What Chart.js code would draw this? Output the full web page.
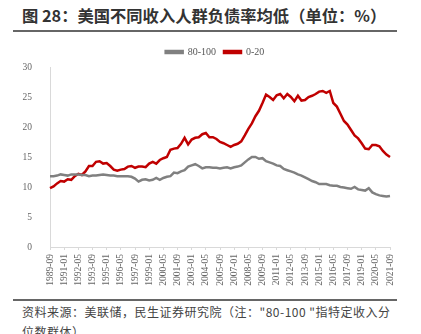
<!DOCTYPE html>
<html>
<head>
<meta charset="utf-8">
<script src="https://cdn.jsdelivr.net/npm/chart.js@4"></script>
<style>
  body { margin: 0; width: 421px; height: 334px; overflow: hidden; background: #fff; position: relative; font-family: "Noto Sans CJK SC", sans-serif; }
  #title { position: absolute; left: 22px; top: 3px; font-size: 16.3px; font-weight: bold; color: #333; white-space: nowrap; }
  #rule1 { position: absolute; left: 13px; top: 30px; width: 384px; height: 2px; background: #666; }
  #wrap { position: absolute; left: 0; top: 38px; width: 421px; height: 260px; }
  #rule2 { position: absolute; left: 13px; top: 299px; width: 384px; height: 2px; background: #666; }
  #source { position: absolute; left: 22px; top: 302px; width: 372px; font-size: 12px; letter-spacing: 0.5px; line-height: 20px; color: #444; }
</style>
</head>
<body>
<div id="title">图 28：美国不同收入人群负债率均低（单位：%）</div>
<div id="rule1"></div>
<div id="wrap"><canvas id="debtChart" width="421" height="260"></canvas></div>
<div id="rule2"></div>
<div id="source">资料来源：美联储，民生证券研究院（注："80-100 "指特定收入分位数群体）</div>
<script>
// 1989-09 to 2021-09, one point every 4 months
const months = [];
for (let y = 1989; y <= 2021; y++) {
    for (const m of ['01', '05', '09']) {
        if (y === 1989 && m !== '09') continue;
        months.push(y + '-' + m);
    }
}

const top20 = [
    11.8, 11.8, 11.9, 12.1, 12.0, 11.9, 12.1, 12.1, 12.1, 12.0,
    12.0, 11.8, 11.9, 11.9, 12.0, 12.1, 12.0, 11.9, 11.9, 11.8,
    11.8, 11.8, 11.8, 11.7, 11.4, 10.9, 11.2, 11.3, 11.1, 11.2,
    11.5, 11.2, 11.5, 11.7, 11.8, 12.4, 12.3, 12.6, 12.8, 13.4,
    13.6, 13.8, 13.5, 13.1, 13.3, 13.3, 13.2, 13.2, 13.1, 13.2,
    13.3, 13.1, 13.3, 13.4, 13.6, 14.1, 14.6, 15.0, 15.0, 14.7,
    14.8, 14.3, 14.1, 13.9, 13.6, 13.5, 13.0, 12.8, 12.6, 12.4,
    12.1, 11.9, 11.6, 11.3, 11.0, 10.8, 10.5, 10.5, 10.5, 10.3,
    10.2, 10.2, 10.0, 9.9, 9.8, 9.7, 10.0, 9.6, 9.5, 9.4,
    9.8, 9.1, 8.8, 8.6, 8.5, 8.4, 8.5
];

const bottom20 = [
    9.8, 10.1, 10.6, 11.0, 10.9, 11.3, 11.2, 11.8, 12.2, 12.0,
    12.6, 13.5, 13.5, 14.2, 14.3, 13.9, 14.0, 13.5, 12.9, 12.7,
    12.9, 13.0, 13.4, 13.5, 13.2, 13.4, 13.4, 13.3, 13.9, 14.2,
    13.9, 14.5, 14.8, 15.0, 16.2, 16.4, 16.5, 17.2, 18.2, 17.1,
    17.9, 18.2, 18.3, 18.8, 19.0, 18.3, 18.3, 18.0, 17.5, 17.3,
    17.0, 16.7, 17.0, 17.2, 17.6, 18.6, 19.7, 20.6, 21.8, 22.7,
    24.0, 25.4, 25.0, 24.5, 25.3, 25.5, 24.8, 25.5, 25.0, 24.3,
    25.2, 24.4, 24.5, 25.0, 25.2, 25.5, 25.9, 26.0, 25.7, 26.0,
    24.0, 23.4, 22.2, 21.0, 20.4, 19.5, 18.6, 18.1, 17.3, 16.4,
    16.3, 17.0, 17.0, 16.8, 16.0, 15.4, 15.0
];

const seriesNames = ['80-100', '0-20'];
const yTicks = [0, 5, 10, 15, 20, 25, 30];

// legend sits centred on the whole canvas, not the padded chart box
const legendShift = {
    id: 'legendShift',
    afterUpdate(chart) {
        chart.legend.left += 20;
        chart.legend.right += 20;
    }
};

const ctx = document.getElementById('debtChart').getContext('2d');
new Chart(ctx, {
    type: 'line',
    data: {
        labels: months,
        datasets: [
            { label: seriesNames[0], data: top20, borderColor: '#808080', backgroundColor: '#808080', borderWidth: 2.5, pointRadius: 0, tension: 0 },
            { label: seriesNames[1], data: bottom20, borderColor: '#c00000', backgroundColor: '#c00000', borderWidth: 2.5, pointRadius: 0, tension: 0 }
        ]
    },
    options: {
        responsive: false,
        animation: false,
        layout: { padding: { left: 0, right: 31, top: 1, bottom: 0 } },
        plugins: {
            legend: {
                position: 'top',
                labels: { boxWidth: 17, boxHeight: 2, padding: 8, color: '#555', font: { family: 'Liberation Serif', size: 10 } }
            },
            tooltip: { enabled: false }
        },
        scales: {
            x: {
                grid: { display: true, drawOnChartArea: false, tickLength: 3, color: '#d9d9d9' },
                border: { color: '#d9d9d9' },
                ticks: {
                    autoSkip: false, maxRotation: 90, minRotation: 90, padding: 4,
                    color: '#666', font: { family: 'Liberation Serif', size: 9.5 },
                    callback: function (v, i) { return i % 4 === 0 ? months[i] : null; }
                },
                afterFit: function (scale) { scale.height = 51; }
            },
            y: {
                min: 0, max: 30,
                afterBuildTicks: function (scale) { scale.ticks = yTicks.map(v => ({ value: v })); },
                grid: { display: false },
                border: { color: '#d9d9d9' },
                ticks: { color: '#666', padding: 10, font: { family: 'Liberation Serif', size: 9.5 } },
                afterFit: function (scale) { scale.width = 50; }
            }
        }
    },
    plugins: [legendShift]
});
</script>
</body>
</html>
